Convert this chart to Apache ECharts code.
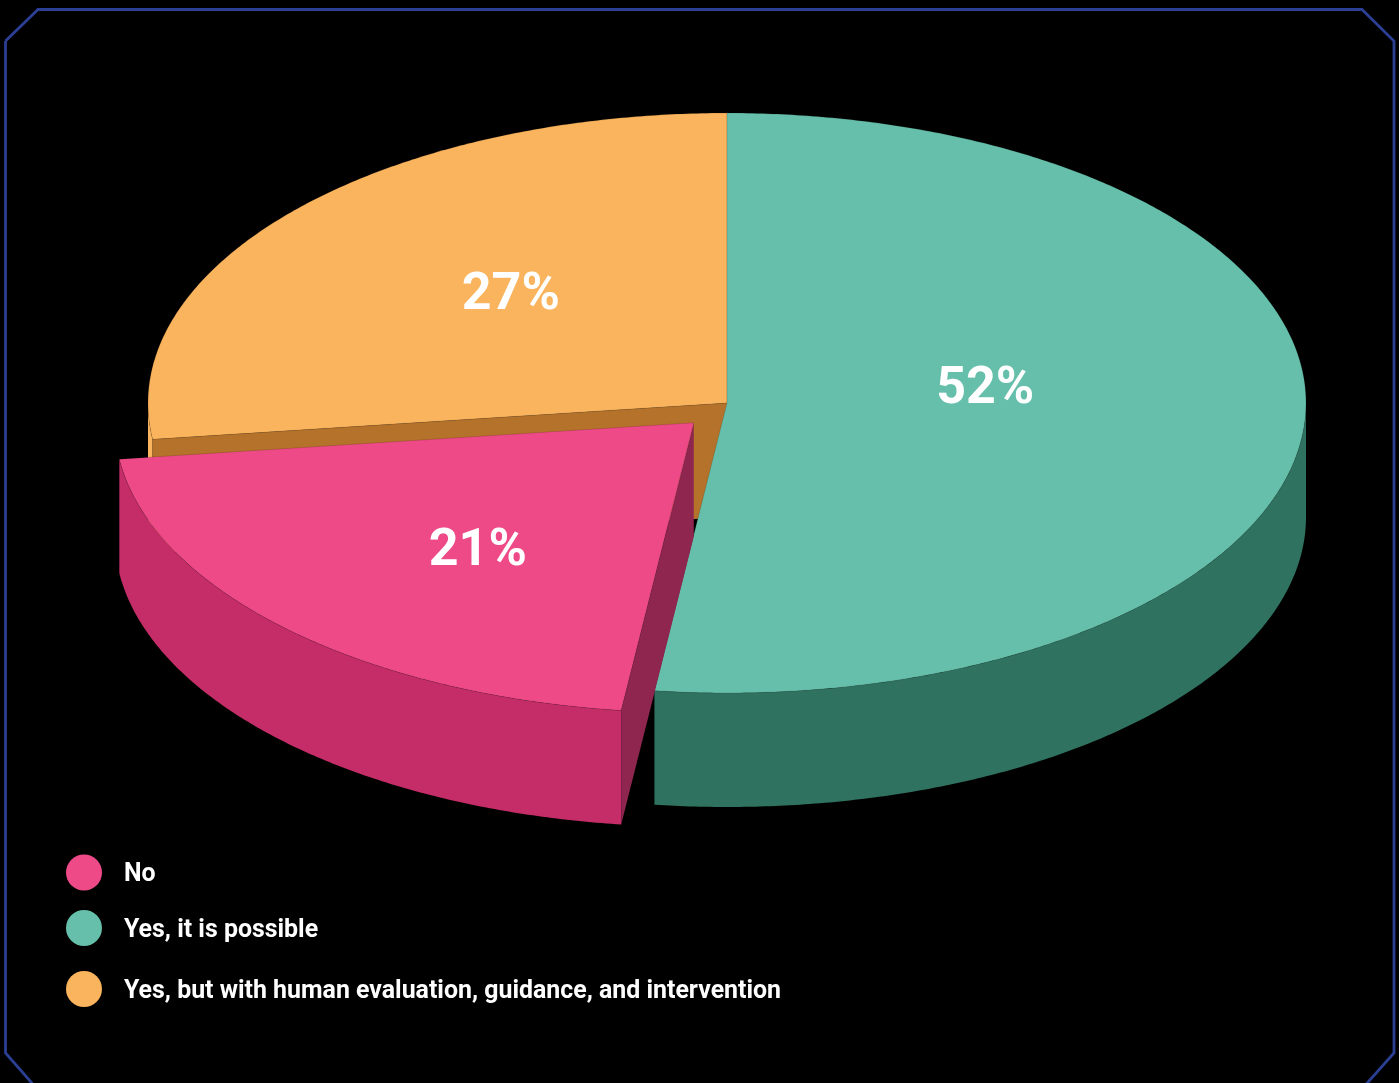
<!DOCTYPE html>
<html>
<head>
<meta charset="utf-8">
<style>
  html, body { margin: 0; padding: 0; background: #000; }
  #chart { width: 1399px; height: 1083px; }
</style>
<script src="https://cdn.jsdelivr.net/npm/echarts@6/dist/echarts.min.js"></script>
</head>
<body>
<div id="chart"></div>
<script>
// Survey answers, in clockwise order from twelve o'clock.
const categories = ['Yes, it is possible', 'No', 'Yes, but with human evaluation, guidance, and intervention'];
const shareValues = [52, 21, 27];
const legendOrder = ['No', 'Yes, it is possible', 'Yes, but with human evaluation, guidance, and intervention'];
const legendCenters = [872.5, 928, 989];

const topColors = ['#66BFAB', '#EE4A87', '#FAB45D'];
const rimColors = ['#2F725F', '#C42D68', '#FAB45D'];
const cutColors = ['#2F725F', '#8E2650', '#B5722A'];
const explodedSlice = [0, 1, 0];
// Radial position and vertical nudge of each percentage label.
const labelRadial = [0.446, 0.53, 0.5];
const labelNudge = [-21, 21, -11];
const labelShiftX = [0.5, 1, 1];
// Paint order: back slice first, pulled-out slice last.
const paintOrder = [2, 0, 1];

const CX = 727, CY = 403, RX = 579, RY = 290, DEPTH = 114;
const EXPLODE_X = 47, EXPLODE_Y = 28;

const total = shareValues.reduce(function (a, b) { return a + b; }, 0);
const startAngles = [];
shareValues.reduce(function (sum, v, i) {
  startAngles[i] = sum / total * 360;
  return sum + v;
}, 0);

const rad = function (d) { return d * Math.PI / 180; };

// Point on the disc rim; angles run clockwise from the top.
function rimPoint(c, angle, drop) {
  return [c[0] + RX * Math.sin(rad(angle)), c[1] - RY * Math.cos(rad(angle)) + drop];
}

function arcPoints(c, a0, a1, drop) {
  const pts = [];
  const steps = Math.max(2, Math.ceil((a1 - a0) * 2));
  for (let i = 0; i <= steps; i++) {
    pts.push(rimPoint(c, a0 + (a1 - a0) * i / steps, drop));
  }
  return pts;
}

function poly(points, fill, outlined) {
  return {
    type: 'polygon',
    shape: { points: points },
    style: outlined
      ? { fill: fill, stroke: 'rgba(0,0,0,0.22)', lineWidth: 0.6 }
      : { fill: fill }
  };
}

function cutWall(c, angle, fill) {
  const p = rimPoint(c, angle, 0);
  return poly([c, p, [p[0], p[1] + DEPTH], [c[0], c[1] + DEPTH]], fill, false);
}

function renderSlice(i) {
  const a0 = startAngles[i];
  const a1 = a0 + shareValues[i] / total * 360;
  const mid = (a0 + a1) / 2;
  const c = explodedSlice[i]
    ? [CX + EXPLODE_X * Math.sin(rad(mid)), CY - EXPLODE_Y * Math.cos(rad(mid))]
    : [CX, CY];
  const children = [];

  // Outer rim: only the part on the near half of the disc shows.
  const r0 = Math.max(a0, 90), r1 = Math.min(a1, 270);
  if (r1 > r0) {
    const upper = arcPoints(c, r0, r1, 0);
    const lower = arcPoints(c, r0, r1, DEPTH).reverse();
    children.push(poly(upper.concat(lower), rimColors[i], false));
  }
  // Straight cut faces that turn toward the viewer.
  if (Math.sin(rad(a0)) < -1e-6) children.push(cutWall(c, a0, cutColors[i]));
  if (Math.sin(rad(a1)) > 1e-6) children.push(cutWall(c, a1, cutColors[i]));

  // Top face.
  children.push(poly([c].concat(arcPoints(c, a0, a1, 0)), topColors[i], true));

  // Percentage label.
  const f = labelRadial[i];
  children.push({
    type: 'text',
    style: {
      x: c[0] + RX * f * Math.sin(rad(mid)) + labelShiftX[i],
      y: c[1] - RY * f * Math.cos(rad(mid)) + labelNudge[i],
      text: shareValues[i] + '%',
      fill: '#fff',
      font: '700 52px Roboto',
      textAlign: 'center',
      textVerticalAlign: 'middle'
    }
  });
  return { type: 'group', children: children };
}

const series = paintOrder.map(function (i) {
  return {
    type: 'custom',
    name: categories[i],
    coordinateSystem: 'none',
    itemStyle: { color: topColors[i] },
    data: [[shareValues[i]]],
    silent: true,
    renderItem: function () { return renderSlice(i); }
  };
});

const legends = legendOrder.map(function (name, i) {
  return {
    data: [{ name: name, icon: 'circle' }],
    left: 66,
    top: legendCenters[i] - 18,
    padding: 0,
    itemWidth: 36,
    itemHeight: 36,
    itemGap: 0,
    selectedMode: false,
    formatter: '{t|{name}}',
    textStyle: {
      color: '#fff',
      fontFamily: 'Roboto',
      fontWeight: 700,
      fontSize: 24.9,
      padding: [0, 0, 0, 17],
      rich: {
        t: {
          color: '#fff',
          fontFamily: 'Roboto',
          fontWeight: 700,
          fontSize: 24.9,
          padding: [5, 0, 0, 0]
        }
      }
    }
  };
});

const chart = echarts.init(document.getElementById('chart'), null, { renderer: 'canvas' });
chart.setOption({
  backgroundColor: '#000',
  animation: false,
  legend: legends,
  series: series,
  graphic: [{
    type: 'polyline',
    silent: true,
    shape: {
      points: [
        [5.5, 41], [38, 9.5], [1362, 9.5], [1394, 41], [1394, 1053],
        [1361, 1090], [38, 1090], [5.5, 1053], [5.5, 41]
      ]
    },
    style: { stroke: '#2B3F94', lineWidth: 2.8, fill: null }
  }]
});
</script>
</body>
</html>
